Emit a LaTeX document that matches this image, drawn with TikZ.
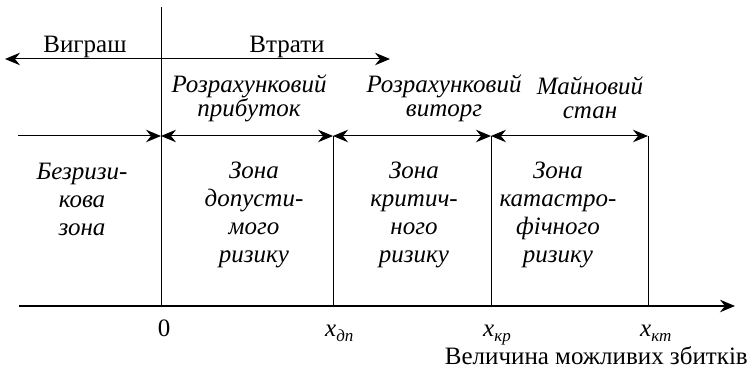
\documentclass[tikz,border=0pt]{standalone}
\usepackage{fontspec}
\setmainfont{Liberation Serif}
\usetikzlibrary{arrows.meta}
\newcommand\xsub[1]{\textit{x}\raisebox{-0.4ex}{\fontsize{17}{17}\selectfont\itshape #1}}
\begin{document}
\begin{tikzpicture}[x=1pt,y=-1pt,
  >={Stealth[length=15pt,width=12.5pt,inset=5pt]},
  every node/.style={inner sep=0pt, font=\fontsize{25}{28}\selectfont},
  lab/.style={align=center, font=\itshape\fontsize{25}{24}\selectfont},
  zone/.style={align=center, font=\itshape\fontsize{25}{28}\selectfont},
  ln/.style={line width=1pt}]
\useasboundingbox (0,0) rectangle (753,371);
% coordinates
\coordinate (top) at (161,7);
\coordinate (o) at (161,306);
\coordinate (axL) at (19,306);
\coordinate (axR) at (735,306);
\coordinate (dpT) at (333,136);
\coordinate (dp) at (333,306);
\coordinate (krT) at (491,136);
\coordinate (kr) at (491,306);
\coordinate (ktT) at (648,136);
\coordinate (kt) at (648,306);
\coordinate (aL) at (5,59);
\coordinate (aR) at (390,59);
\coordinate (bL) at (18,136);
\coordinate (b0) at (161,136);
% lines
\draw[ln] (top) -- (o);
\draw[ln] (dpT) -- (dp);
\draw[ln] (krT) -- (kr);
\draw[ln] (ktT) -- (kt);
\draw[ln,<->] (aL) -- (aR);
\draw[ln,->] (bL) -- (b0);
\draw[ln,<->] (b0) -- (dpT);
\draw[ln,<->] (dpT) -- (krT);
\draw[ln,<->] (krT) -- (ktT);
\draw[line width=1.3pt,->] (axL) -- (axR);
% texts
\node[anchor=base] (win) at (85,53) {Виграш};
\node[anchor=base] (loss) at (287,53) {Втрати};
\node[lab] (rp) at (249,98) {Розрахунковий\\прибуток};
\node[lab] (rv) at (444,98) {Розрахунковий\\виторг};
\node[lab] (ms) at (590,98) {Майновий\\стан};
\node[zone] (z0) at (82,199) {Безризи-\\кова\\зона};
\node[zone] (z1) at (254,215) {Зона\\допусти-\\мого\\ризику};
\node[zone] (z2) at (414,215) {Зона\\критич-\\ного\\ризику};
\node[zone] (z3) at (558,215) {Зона\\катастро-\\фічного\\ризику};
\node[anchor=base] (l0) at (164,337) {0};
\node[anchor=base west] (ldp) at (325,337) {\xsub{дп}};
\node[anchor=base west] (lkr) at (483,337) {\xsub{кр}};
\node[anchor=base west] (lkt) at (640,337) {\xsub{кт}};
\node[anchor=base east] (cap) at (748,365) {Величина можливих збитків};
\end{tikzpicture}
\end{document}
